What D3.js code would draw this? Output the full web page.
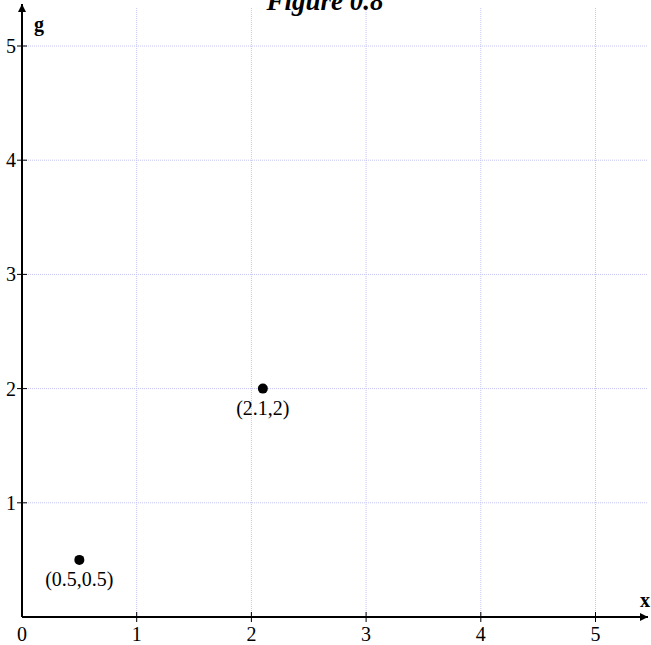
<!DOCTYPE html>
<html><head><meta charset="utf-8">
<script src="https://cdn.jsdelivr.net/npm/d3@7"></script>
<style>body{margin:0;background:#fff}svg{display:block}</style>
</head><body>
<script>
const xTicks = [1, 2, 3, 4, 5];
const yTicks = [1, 2, 3, 4, 5];
const pointsX = [0.5, 2.1];
const pointsY = [0.5, 2];
const pointLabels = ["(0.5,0.5)", "(2.1,2)"];
const title = "Figure 0.8";

const FONT = "'Liberation Serif', 'DejaVu Serif', serif";
const W = 651, H = 645;
const svg = d3.select("body").append("svg").attr("width", W).attr("height", H)
  .attr("font-family", FONT);
const x = d3.scaleLinear().domain([0, 5]).range([22, 595.5]);
const y = d3.scaleLinear().domain([0, 5]).range([617, 46]);
const xEnd = 648, yEnd = 4;

svg.append("defs").append("marker").attr("id","arr").attr("viewBox","0 0 10 10")
  .attr("refX",10).attr("refY",5).attr("markerWidth",8).attr("markerHeight",8)
  .attr("markerUnits","userSpaceOnUse").attr("orient","auto")
  .append("path").attr("d","M0,0 L10,5 L0,10 Z").attr("fill","#000");

// grid
svg.append("g").selectAll("line").data(xTicks).join("line")
  .attr("x1", d => x(d)).attr("x2", d => x(d)).attr("y1", y(0)).attr("y2", 8)
  .attr("stroke", "#c4c4f4").attr("stroke-width", 1).attr("stroke-dasharray", "1,1");
svg.append("g").selectAll("line").data(yTicks).join("line")
  .attr("y1", d => y(d)).attr("y2", d => y(d)).attr("x1", x(0)).attr("x2", xEnd)
  .attr("stroke", "#c4c4f4").attr("stroke-width", 1).attr("stroke-dasharray", "1,1");

// axes
svg.append("line").attr("x1", x(0)).attr("x2", xEnd).attr("y1", y(0)).attr("y2", y(0))
  .attr("stroke", "#000").attr("stroke-width", 2).attr("marker-end", "url(#arr)");
svg.append("line").attr("x1", x(0)).attr("x2", x(0)).attr("y1", y(0)).attr("y2", yEnd)
  .attr("stroke", "#000").attr("stroke-width", 2).attr("marker-end", "url(#arr)");

// ticks
svg.append("g").selectAll("line").data(xTicks).join("line")
  .attr("x1", d => x(d)).attr("x2", d => x(d)).attr("y1", y(0) - 5).attr("y2", y(0) + 5)
  .attr("stroke", "#000").attr("stroke-width", 1);
svg.append("g").selectAll("line").data(yTicks).join("line")
  .attr("y1", d => y(d)).attr("y2", d => y(d)).attr("x1", x(0) - 5).attr("x2", x(0) + 5)
  .attr("stroke", "#000").attr("stroke-width", 1);

// tick labels
svg.append("g").selectAll("text").data([0].concat(xTicks)).join("text")
  .attr("x", d => x(d)).attr("y", 641).attr("text-anchor", "middle")
  .attr("font-size", 20).text(d => d);
svg.append("g").selectAll("text").data(yTicks).join("text")
  .attr("x", 16).attr("y", d => y(d) + 7).attr("text-anchor", "end")
  .attr("font-size", 20).text(d => d);

// axis names
svg.append("text").attr("x", 34).attr("y", 31).attr("font-size", 20).attr("font-weight", "bold").text("g");
svg.append("text").attr("x", 640).attr("y", 607).attr("font-size", 20).attr("font-weight", "bold").text("x");

// title
svg.append("text").attr("x", 325).attr("y", 10).attr("text-anchor", "middle")
  .attr("font-size", 27).attr("font-weight", "bold").attr("font-style", "italic").text(title);

// points
const pts = pointsX.map((v, i) => ({x: v, y: pointsY[i], label: pointLabels[i]}));
svg.append("g").selectAll("circle").data(pts).join("circle")
  .attr("cx", d => x(d.x)).attr("cy", d => y(d.y)).attr("r", 5).attr("fill", "#000");
svg.append("g").selectAll("text").data(pts).join("text")
  .attr("x", d => x(d.x)).attr("y", d => y(d.y) + 26).attr("text-anchor", "middle")
  .attr("font-size", 20).text(d => d.label);
</script>
</body></html>
